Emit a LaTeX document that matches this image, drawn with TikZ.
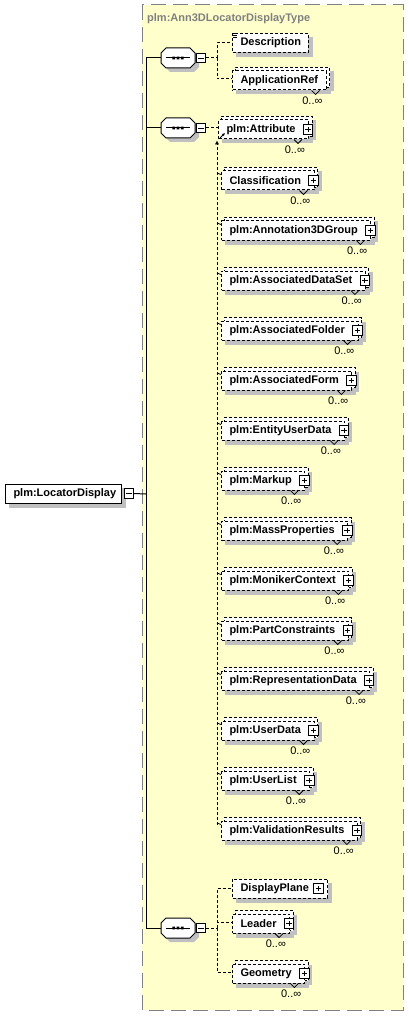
\documentclass[tikz,border=0pt]{standalone}
\usepackage{fontspec}
\setmainfont{Liberation Sans}
\usetikzlibrary{arrows.meta}
\pgfdeclarelayer{back}
\pgfdeclarelayer{bg}
\pgfsetlayers{back,bg,main}
\definecolor{typefill}{RGB}{255,255,204}
\definecolor{typeline}{RGB}{128,128,128}
\definecolor{shadowc}{RGB}{192,192,192}
\tikzset{
  elbox/.style={draw=black, fill=white, dash pattern=on 3pt off 2pt, line width=1pt,
    inner xsep=0pt, inner ysep=0pt, minimum height=19pt, anchor=west,
    font=\fontsize{11}{13}\selectfont\bfseries},
  backbox/.style={draw=black, fill=white, dash pattern=on 3pt off 2pt, line width=1pt},
  conn/.style={draw=black, dash pattern=on 3pt off 2pt, line width=1pt},
  trunkline/.style={draw=black, line width=1pt},
  card/.style={font=\fontsize{11}{13}\selectfont, inner sep=0pt, anchor=east},
  plusicon/.style={draw=black, solid, fill=white, line width=0.8pt, minimum size=9.5pt, inner sep=0pt,
    path picture={\draw[solid, line width=0.8pt]
      ([xshift=2pt]path picture bounding box.west) -- ([xshift=-2pt]path picture bounding box.east)
      ([yshift=-2pt]path picture bounding box.north) -- ([yshift=2pt]path picture bounding box.south);}},
  minusicon/.style={draw=black, solid, fill=white, line width=0.8pt, minimum width=9.5pt, minimum height=9.5pt, inner sep=0pt,
    path picture={\draw[solid, line width=0.8pt]
      ([xshift=2pt]path picture bounding box.west) -- ([xshift=-2pt]path picture bounding box.east);}},
}
% stacked (multiple) element: name, L, cy, text, right pad
\newcommand\stackel[5]{%
  \node[elbox] (#1) at (#2,#3) {\kern8pt #4\kern#5pt};
  \begin{pgfonlayer}{bg}
    \fill[shadowc] ([shift={(7pt,-1pt)}]#1.south west) rectangle ([shift={(7pt,-1pt)}]#1.north east);
    \fill[shadowc] ([shift={(4pt,-4pt)}]#1.south west) rectangle ([shift={(4pt,-4pt)}]#1.north east);
    \draw[backbox] ([shift={(3pt,3pt)}]#1.south west) rectangle ([shift={(3pt,3pt)}]#1.north east);
  \end{pgfonlayer}
  \draw[line width=0.8pt] ([xshift=-15pt]#1.south east) -- ++(4,4) -- ++(4,-4);
  \node[card] (#1-c) at ([shift={(-4pt,-10.5pt)}]#1.south east) {0..∞};
}
% single element: name, L, cy, text, right pad
\newcommand\plainel[5]{%
  \node[elbox] (#1) at (#2,#3) {\kern8pt #4\kern#5pt};
  \begin{pgfonlayer}{bg}
    \fill[shadowc] ([shift={(4pt,-4pt)}]#1.south west) rectangle ([shift={(4pt,-4pt)}]#1.north east);
  \end{pgfonlayer}
}
% substitution member: name, cy, text
\newcommand\member[3]{%
  \stackel{#1}{221}{#2}{#3}{13}
  \node[plusicon] (#1-p) at ([xshift=-1pt]#1.east) {};
  \draw[line width=0.8pt] (217,{#2-7.5}) -- ([yshift=-4pt]#1.north west);
}
% sequence compositor: name, cx, cy
\newcommand\seqcomp[3]{%
  \node[inner sep=0pt, minimum width=34pt, minimum height=20pt] (#1) at (#2,#3) {};
  \begin{pgfonlayer}{bg}
    \fill[shadowc, shift={(#2+4,#3+4)}] (-12,-10) -- (12,-10) -- (17,-5) -- (17,5) -- (12,10) -- (-12,10) -- (-17,5) -- (-17,-5) -- cycle;
  \end{pgfonlayer}
  \draw[fill=white, line width=1pt, shift={(#2,#3)}] (-12,-10) -- (12,-10) -- (17,-5) -- (17,5) -- (12,10) -- (-12,10) -- (-17,5) -- (-17,-5) -- cycle;
  \draw[line width=1pt, shift={(#2,#3)}] (-12,0) -- (12,0);
  \fill[shift={(#2,#3)}] (-5.6,-1.4) rectangle (-2.8,1.4) (-1.4,-1.4) rectangle (1.4,1.4) (2.8,-1.4) rectangle (5.6,1.4);
  \node[minusicon] (#1-m) at (#2+23,#3) {};
}
\begin{document}
\begin{tikzpicture}[x=1pt,y=-1pt]
\useasboundingbox (0,0) rectangle (409,1016);
\begin{pgfonlayer}{back}
  \draw[draw=typeline, fill=typefill, line width=1pt, dash pattern=on 15pt off 7pt] (142,5) rectangle (403,1010);
\end{pgfonlayer}
\node[anchor=west, inner sep=0pt, text=typeline, font=\fontsize{11}{13}\selectfont\bfseries] (title) at (147,19) {plm:Ann3DLocatorDisplayType};

% root element
\node[elbox, solid] (ld) at (5,494) {\kern8pt plm:LocatorDisplay\kern5pt};
\begin{pgfonlayer}{bg}
  \fill[shadowc] ([shift={(4pt,-4pt)}]ld.south west) rectangle ([shift={(4pt,-4pt)}]ld.north east);
\end{pgfonlayer}
\node[minusicon] (ldm) at (129,493.5) {};

% compositors
\seqcomp{s1}{178}{58}
\seqcomp{s2}{178}{128}
\seqcomp{s3}{178}{928}

\coordinate (trunk) at (146,494);
\draw[trunkline] (ldm.east) -- (trunk);
\draw[trunkline] (trunk) |- (s1.west);
\draw[trunkline] (trunk) |- (s2.west);
\draw[trunkline] (trunk) |- (s3.west);

% group 1
\plainel{desc}{232}{43}{Description}{7}
\draw[line width=0.7pt] ([shift={(1pt,-0.8pt)}]desc.north west) -- ++(4,0)
  ([shift={(1pt,-2.6pt)}]desc.north west) -- ++(4,0)
  ([shift={(1pt,-4.4pt)}]desc.north west) -- ++(4,0);
\stackel{appref}{232}{80.5}{ApplicationRef}{8}
\coordinate (j1) at (217,58);
\draw[conn] (s1-m.east) -- (j1);
\draw[conn] (j1) |- (desc.west);
\draw[conn] (j1) |- ([yshift=1.5pt]appref.west);

% group 2
\stackel{attr}{218}{129.5}{plm:Attribute}{13}
\node[plusicon] (attr-p) at ([xshift=-1pt]attr.east) {};
\draw[-{Latex[length=3pt,width=3pt]}, line width=0.8pt] ([shift={(2pt,1.5pt)}]attr.south west) -- ++(5,-5);
\draw[conn] (s2-m.east) -- ([yshift=1.5pt]attr.west);

\member{m0}{180.5}{Classification}
\member{m1}{230.5}{plm:Annotation3DGroup}
\member{m2}{280.5}{plm:AssociatedDataSet}
\member{m3}{330.5}{plm:AssociatedFolder}
\member{m4}{380.5}{plm:AssociatedForm}
\member{m5}{430.5}{plm:EntityUserData}
\member{m6}{480.5}{plm:Markup}
\member{m7}{530.5}{plm:MassProperties}
\member{m8}{580.5}{plm:MonikerContext}
\member{m9}{630.5}{plm:PartConstraints}
\member{m10}{680.5}{plm:RepresentationData}
\member{m11}{730.5}{plm:UserData}
\member{m12}{780.5}{plm:UserList}
\member{m13}{830.5}{plm:ValidationResults}
\coordinate (vend) at (217,825);
\draw[conn, -{Latex[length=4pt,width=4.5pt]}] (vend) -- ([shift={(-1pt,-1pt)}]attr.south west);

% group 3
\plainel{dp}{232}{888.5}{DisplayPlane}{19}
\node[plusicon] (dp-p) at ([xshift=-10pt]dp.east) {};
\stackel{leader}{232}{923.5}{Leader}{13}
\node[plusicon] (leader-p) at ([xshift=-1pt]leader.east) {};
\stackel{geom}{232}{973.5}{Geometry}{13}
\node[plusicon] (geom-p) at ([xshift=-1pt]geom.east) {};
\coordinate (j3) at (217,928);
\draw[conn] (s3-m.east) -- (j3);
\draw[conn] (j3) |- (dp.west);
\draw[conn] (j3) |- ([yshift=1.5pt]leader.west);
\draw[conn] (j3) |- ([yshift=1.5pt]geom.west);
\end{tikzpicture}
\end{document}
